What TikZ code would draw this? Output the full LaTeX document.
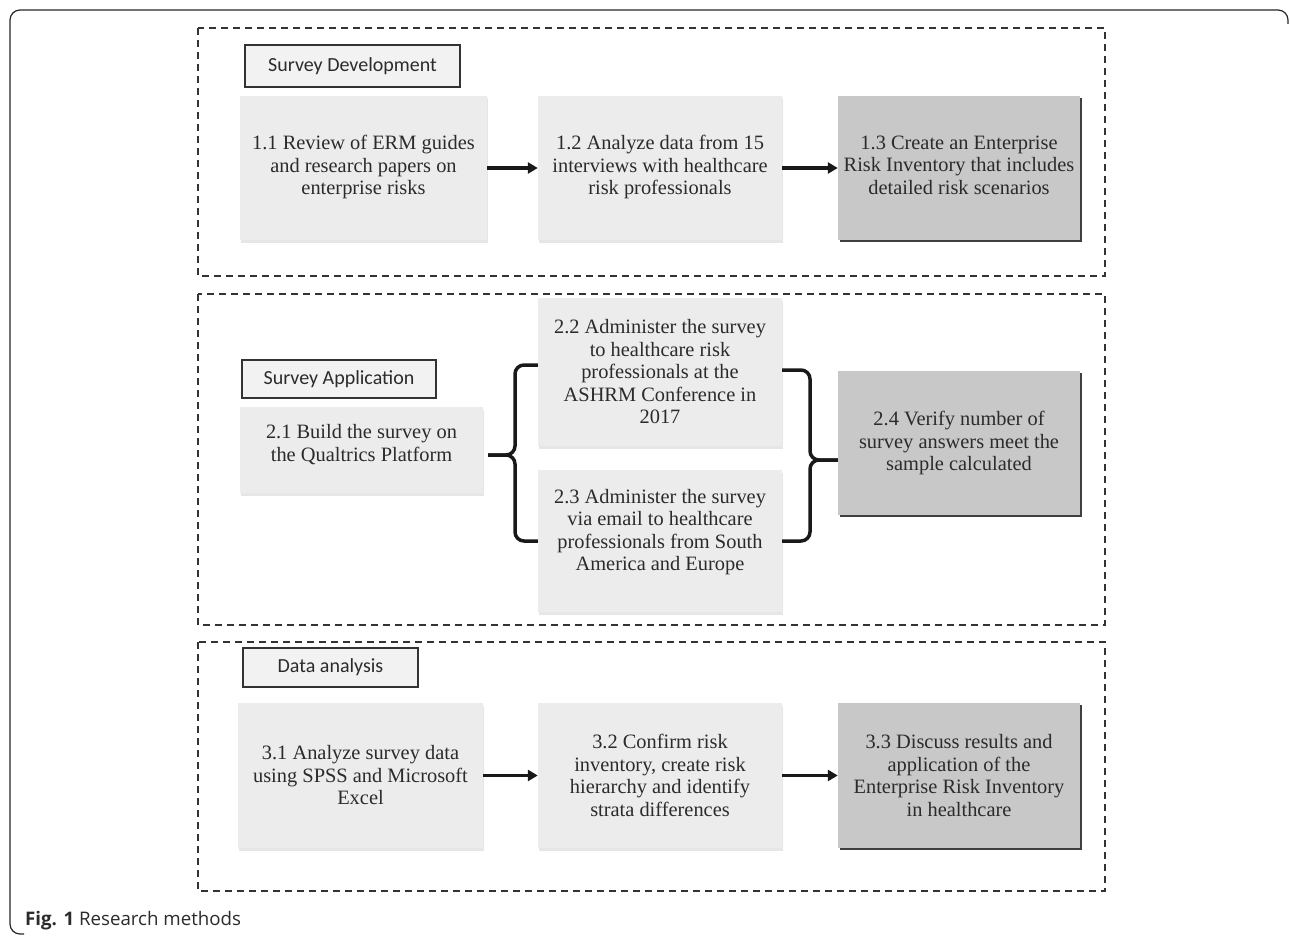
\documentclass[tikz,border=0pt]{standalone}
\usepackage{fontspec}
\setmainfont{Liberation Serif}
\newfontfamily\labfont{Carlito}
\newfontfamily\capfont{Open Sans}
\usetikzlibrary{shadows,arrows.meta}
\definecolor{boxlight}{HTML}{ECECEC}
\definecolor{boxdark}{HTML}{C8C8C8}
\definecolor{labfill}{HTML}{F2F2F2}
\definecolor{inkc}{HTML}{2B2B2B}
\begin{document}
\begin{tikzpicture}[x=1pt,y=-1pt,
  lbox/.style={fill=boxlight, inner sep=0pt, align=center, text=inkc,
    font=\fontsize{20.4}{22.5}\selectfont,
    drop shadow={shadow xshift=0.5pt, shadow yshift=-2.5pt, opacity=0.2}},
  dbox/.style={fill=boxdark, inner sep=0pt, align=center, text=inkc,
    font=\fontsize{20.4}{22.5}\selectfont,
    drop shadow={shadow xshift=2pt, shadow yshift=-2pt, fill=black!75, opacity=1}},
  labbox/.style={draw=black!80, line width=1.3pt, fill=labfill, inner sep=0pt,
    text=inkc, font=\labfont\fontsize{20}{22}\selectfont},
  frame/.style={draw=black!80, line width=1.3pt, dash pattern=on 7pt off 5pt},
  arr/.style={line width=3.2pt, black!90, -{Triangle[length=10pt,width=11pt]}},
  brace/.style={line width=3.5pt, black!90, rounded corners=9pt}
]
\useasboundingbox (0,0) rectangle (1290,936);

% outer frame
\draw[line width=1.2pt, black!85, rounded corners=10pt] (1288,24) |- (10,10) |- (24,934);

% dashed section frames
\draw[frame] (198,28) rectangle (1105,276);
\draw[frame] (198,294) rectangle (1105,625);
\draw[frame] (198,642) rectangle (1105,891);

% section labels
\node[labbox, minimum width=215pt, minimum height=42pt] (lab1) at (352.5,66) {Survey Development};
\node[labbox, minimum width=194pt, minimum height=38pt] (lab2) at (339,379) {Survey Application};
\node[labbox, minimum width=175pt, minimum height=39pt] (lab3) at (330.5,667.5) {Data analysis};

% row 1
\node[lbox, minimum width=247pt, minimum height=144pt] (b11) at (363.5,168)
  {1.1 Review of ERM guides\\and research papers on\\enterprise risks\\[-16.5pt]};
\node[lbox, minimum width=244pt, minimum height=144pt] (b12) at (660,168)
  {1.2 Analyze data from 15\\interviews with healthcare\\risk professionals\\[-16.5pt]};
\node[dbox, minimum width=242pt, minimum height=144pt] (b13) at (959,168)
  {1.3 Create an Enterprise\\Risk Inventory that includes\\detailed risk scenarios\\[-16.5pt]};
\draw[arr] (b11) -- (b12);
\draw[arr] (b12) -- (b13);

% row 2
\node[lbox, minimum width=243pt, minimum height=86pt] (b21) at (361.5,450)
  {2.1 Build the survey on\\the Qualtrics Platform\\[-8.5pt]};
\node[lbox, minimum width=244pt, minimum height=148pt] (b22) at (660,372)
  {2.2 Administer the survey\\to healthcare risk\\professionals at the\\ASHRM Conference in\\2017};
\node[lbox, minimum width=244pt, minimum height=142pt] (b23) at (660,541)
  {2.3 Administer the survey\\via email to healthcare\\professionals from South\\America and Europe\\[0pt]};
\node[dbox, minimum width=242pt, minimum height=144pt] (b24) at (959,443)
  {2.4 Verify number of\\survey answers meet the\\sample calculated};

% braces
\coordinate (lt) at ([yshift=7pt]b22.west);
\coordinate (lb) at (b23.west);
\coordinate (lv) at (515,455);
\coordinate (ltip) at ([xshift=5pt,yshift=-5pt]b21.east);
\draw[brace] (lt) -| (lv) -- (ltip);
\draw[brace] (lb) -| (lv) -- (ltip);

\coordinate (rt) at ([yshift=2pt]b22.east);
\coordinate (rb) at (b23.east);
\coordinate (rv) at (810,460);
\coordinate (rtip) at ([yshift=-17pt]b24.west);
\draw[brace] (rt) -| (rv) -- (rtip);
\draw[brace] (rb) -| (rv) -- (rtip);

% row 3
\node[lbox, minimum width=245pt, minimum height=145pt] (b31) at (360.5,775.5)
  {3.1 Analyze survey data\\using SPSS and Microsoft\\Excel};
\node[lbox, minimum width=244pt, minimum height=145pt] (b32) at (660,775.5)
  {3.2 Confirm risk\\inventory, create risk\\hierarchy and identify\\strata differences};
\node[dbox, minimum width=242pt, minimum height=145pt] (b33) at (959,775.5)
  {3.3 Discuss results and\\application of the\\Enterprise Risk Inventory\\in healthcare};
\draw[arr] (b31) -- (b32);
\draw[arr] (b32) -- (b33);

% caption
\node[anchor=base west, inner sep=0pt, text=inkc, font=\capfont\fontsize{18.7}{21}\selectfont] (cap) at (25,925)
  {\textbf{Fig. 1} Research methods};
\end{tikzpicture}
\end{document}
